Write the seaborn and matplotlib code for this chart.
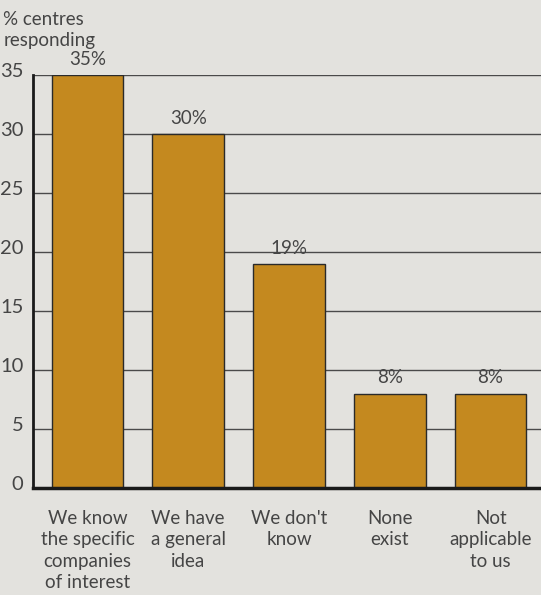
import matplotlib
matplotlib.use("Agg")
import matplotlib.pyplot as plt
import matplotlib.transforms as mtransforms
import seaborn as sns
import pandas as pd

categories = ["We know\nthe specific\ncompanies\nof interest",
              "We have\na general\nidea",
              "We don't\nknow",
              "None\nexist",
              "Not\napplicable\nto us"]
values = [35, 30, 19, 8, 8]
yticks = [0, 5, 10, 15, 20, 25, 30, 35]

bg = "#e3e2de"
bar_color = "#c4891f"
text_color = "#454545"

sns.set_theme(style="white")
plt.rcParams["font.family"] = ["Lato", "DejaVu Sans"]

df = pd.DataFrame({"category": categories, "value": values})

fig = plt.figure(figsize=(5.41, 5.95), dpi=100, facecolor=bg)
ax = fig.add_axes([0.061, 0.180, 0.939, 0.694])
ax.set_facecolor(bg)

ax.set_axisbelow(True)
for t in yticks[1:]:
    ax.axhline(t, color="#4a4a4a", lw=1.0, zorder=0)

sns.barplot(data=df, x="category", y="value", color=bar_color, width=0.71,
            edgecolor="#2a2a2a", linewidth=1.0, saturation=1, ax=ax, zorder=2)

for i, v in enumerate(values):
    ax.text(i, v + 0.6, f"{v}%", ha="center", va="bottom", fontsize=13.5,
            color=text_color)

ax.set_xlim(-0.54, 4.5)
ax.set_ylim(0, 35)
ax.set_yticks(yticks)
ax.set_yticklabels([str(t) for t in yticks], fontsize=14.5, color=text_color)
ax.tick_params(axis="y", length=0, pad=7)
ax.tick_params(axis="x", length=0, pad=16, labelsize=13.5, labelcolor=text_color)
shift = mtransforms.ScaledTranslation(0, 5 / 100, fig.dpi_scale_trans)
for lab in ax.get_yticklabels():
    lab.set_transform(lab.get_transform() + shift)
for lab in ax.get_xticklabels():
    lab.set_linespacing(1.3)

ax.set_xlabel("")
ax.set_ylabel("")
for s in ["top", "right"]:
    ax.spines[s].set_visible(False)
ax.spines["left"].set_color("#1a1a1a")
ax.spines["left"].set_linewidth(2)
ax.spines["bottom"].set_color("#1a1a1a")
ax.spines["bottom"].set_linewidth(2.5)

fig.text(0.006, 0.982, "% centres\nresponding", ha="left", va="top", fontsize=13.5,
         color=text_color, linespacing=1.3)

fig.savefig("out.png", dpi=100, facecolor=bg)
